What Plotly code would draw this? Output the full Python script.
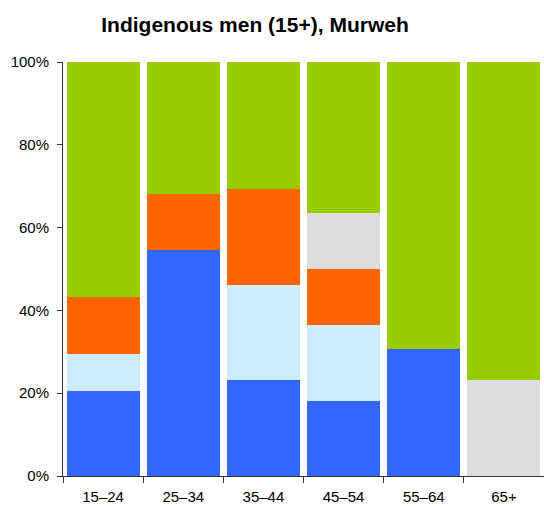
import plotly.graph_objects as go

categories = ["15–24", "25–34", "35–44", "45–54", "55–64", "65+"]

# percentage shares, stacked bottom to top
series_blue = [20.45, 54.55, 23.08, 18.18, 30.77, 0.0]
series_lightblue = [9.09, 0.0, 23.08, 18.18, 0.0, 0.0]
series_orange = [13.64, 13.64, 23.08, 13.64, 0.0, 0.0]
series_grey = [0.0, 0.0, 0.0, 13.64, 0.0, 23.08]
series_green = [56.82, 31.81, 30.76, 36.36, 69.23, 76.92]

series_names = ["Group 1", "Group 2", "Group 3", "Group 4", "Group 5"]
series_colors = ["#3366FF", "#CCEBFF", "#FF6600", "#DDDDDD", "#99CC00"]
series_values = [series_blue, series_lightblue, series_orange, series_grey, series_green]

FONT = "Liberation Sans, Arial, Helvetica, sans-serif"

fig = go.Figure()
for name, color, vals in zip(series_names, series_colors, series_values):
    fig.add_trace(go.Bar(
        x=categories, y=vals, name=name,
        marker=dict(color=color, line=dict(width=0)),
        hoverinfo="x+y+name",
    ))

fig.update_layout(
    width=544, height=506,
    barmode="stack",
    bargap=0.09,
    showlegend=False,
    paper_bgcolor="white",
    plot_bgcolor="white",
    margin=dict(l=63, r=0, t=62, b=30, pad=0, autoexpand=False),
    font=dict(family=FONT, size=15, color="#000000"),
    title=dict(
        text="<b>Indigenous men (15+), Murweh</b>",
        font=dict(family=FONT, size=21, color="#000000"),
        x=255 / 544, xanchor="center", xref="container",
        y=1 - 25 / 506, yanchor="middle", yref="container",
        automargin=False,
    ),
    xaxis=dict(
        type="category",
        tickson="boundaries",
        ticks="outside", ticklen=6, tickcolor="#333333", tickwidth=1,
        showline=True, linecolor="#333333", linewidth=1,
        showgrid=False, zeroline=False,
        tickfont=dict(family=FONT, size=15, color="#000000"),
        ticklabelstandoff=7,
        automargin=False,
    ),
    yaxis=dict(
        range=[0, 100],
        tickvals=[0, 20, 40, 60, 80, 100],
        ticktext=["0%", "20%", "40%", "60%", "80%", "100%"],
        ticks="outside", ticklen=5, tickcolor="#333333", tickwidth=1,
        showline=True, linecolor="#333333", linewidth=1,
        showgrid=False, zeroline=False,
        tickfont=dict(family=FONT, size=15, color="#000000"),
        ticklabelstandoff=5,
        automargin=False,
    ),
)

fig.write_html(
    "out.html",
    config={"displayModeBar": False},
    post_script="document.body.style.margin='0';document.body.style.padding='0';",
)
